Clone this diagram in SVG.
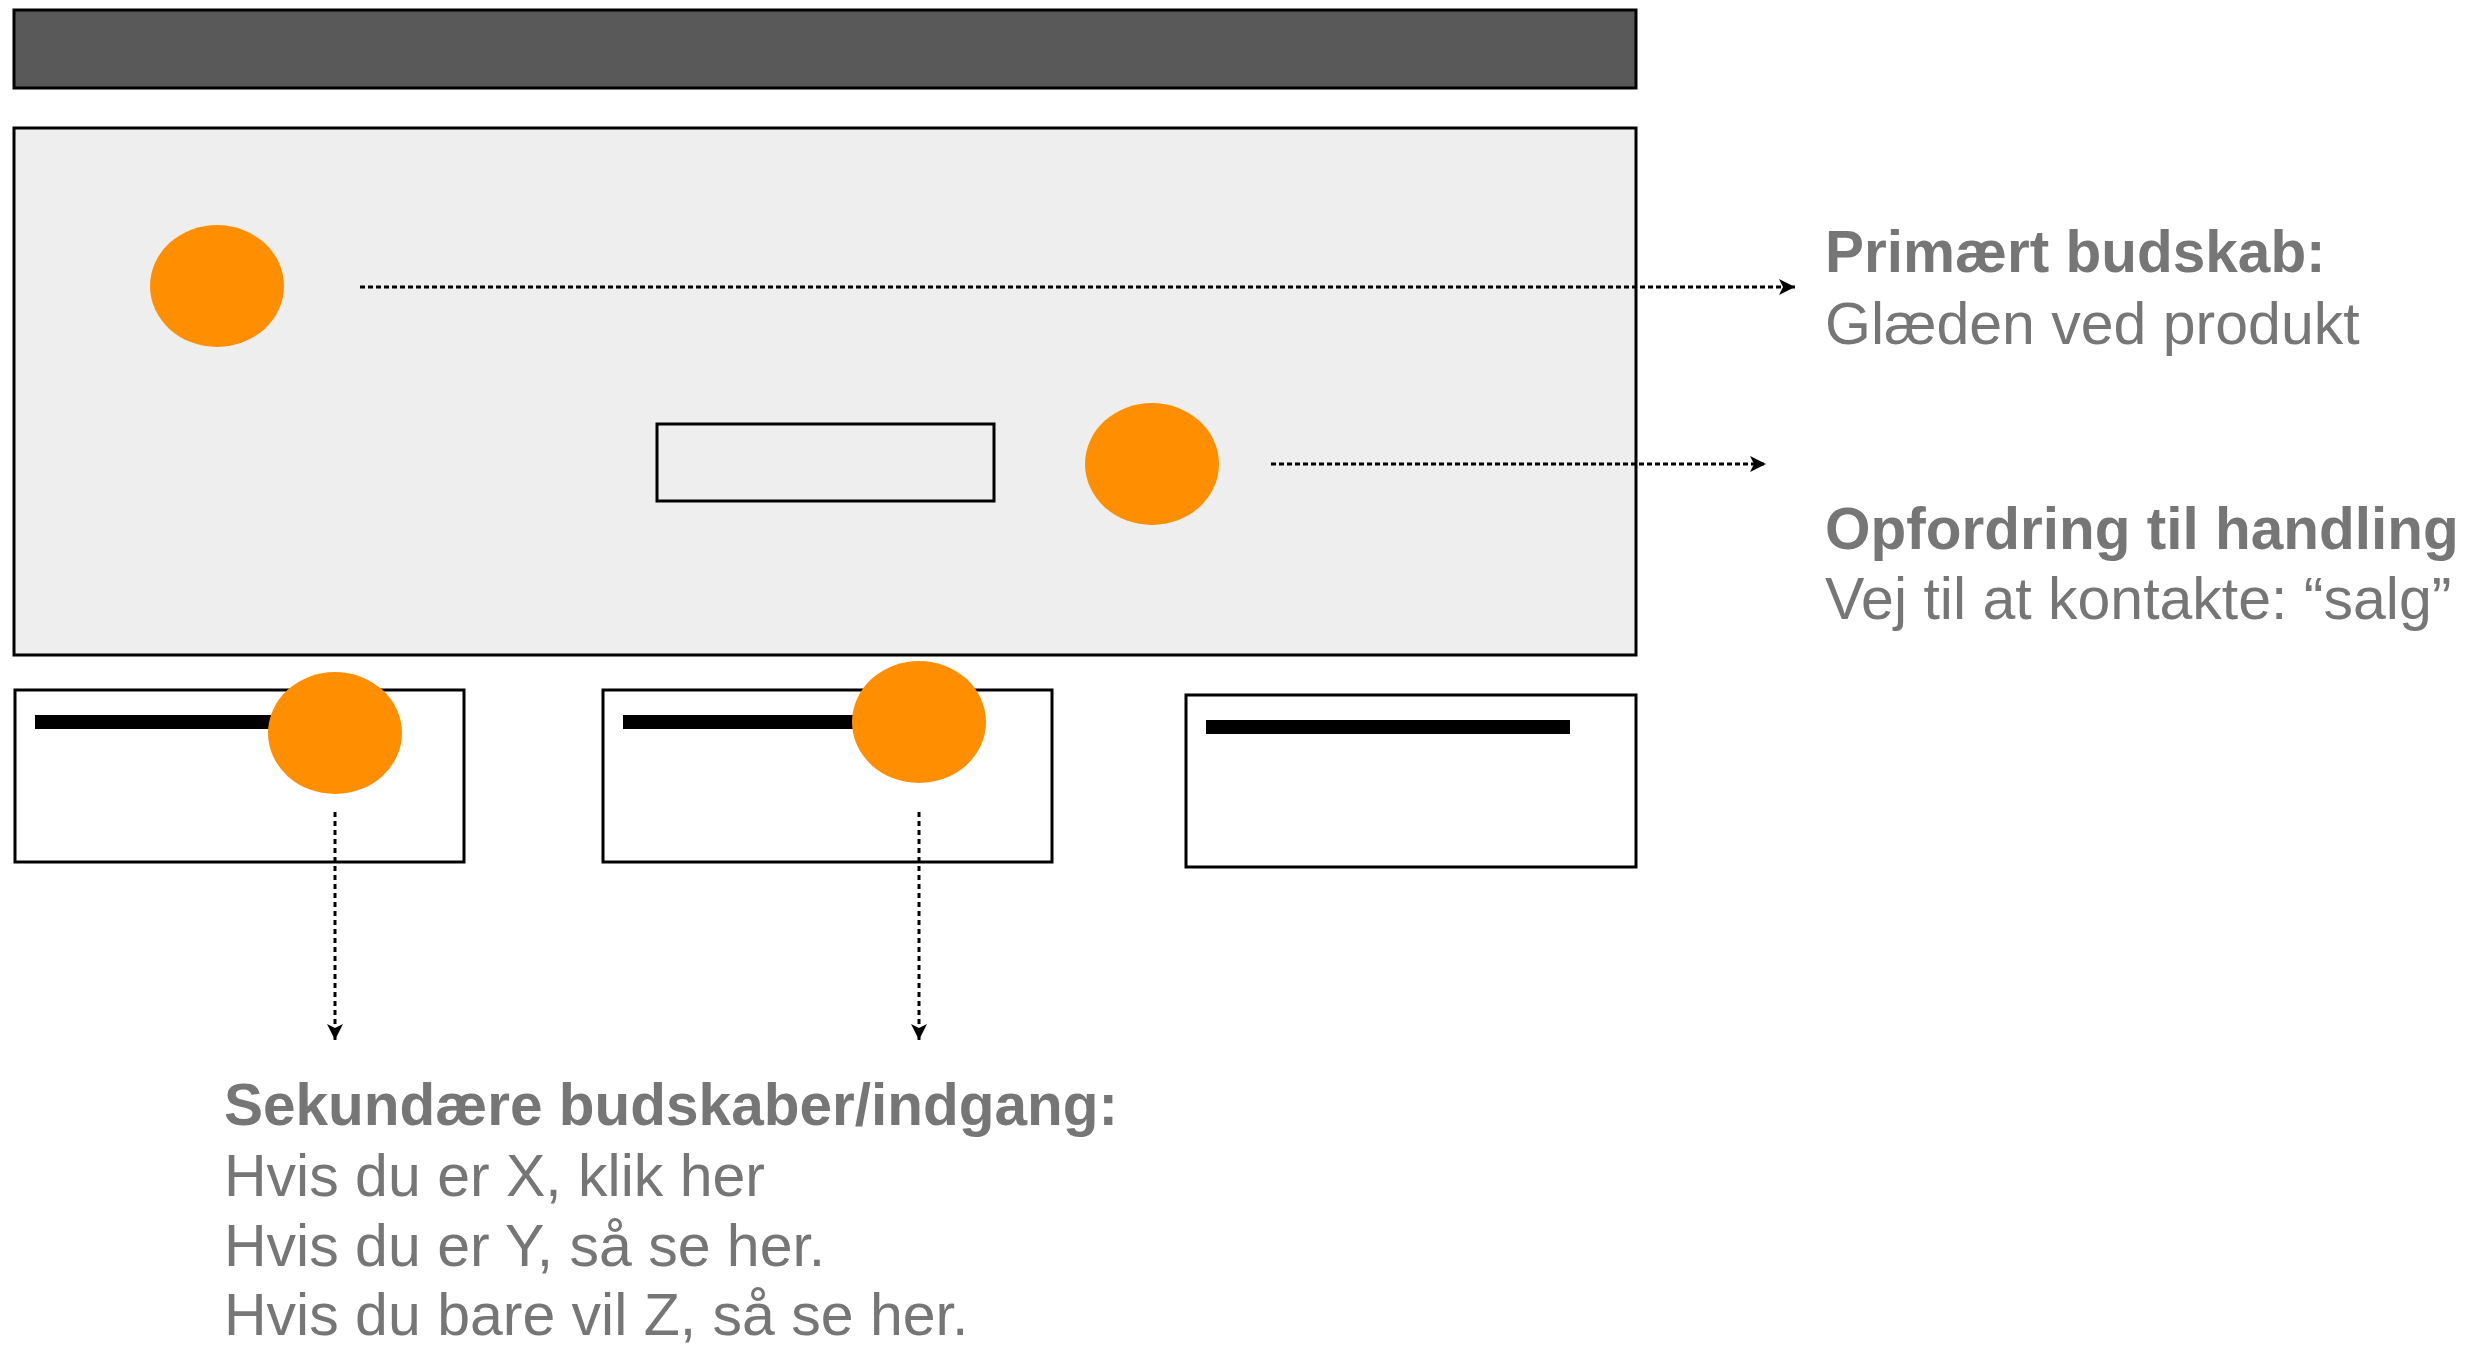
<svg xmlns="http://www.w3.org/2000/svg" width="2490" height="1347" viewBox="0 0 2490 1347">
<style>
.box{stroke:#000;stroke-width:3}
.dot{fill:#FF8F00}
.bar{fill:#000}
.con{fill:none;stroke:#000;stroke-width:3}
.h{stroke-dasharray:5 3}
.v{stroke-dasharray:5 4}
.t{font-family:"Liberation Sans",Arial,sans-serif;font-size:59px;fill:#767676}
.b{font-weight:bold;font-size:58.5px}
</style>
<defs>
<marker id="arr" markerUnits="userSpaceOnUse" markerWidth="18" markerHeight="18" refX="16" refY="8" orient="auto" viewBox="0 0 18 18">
<path d="M0,0 L16,8 L0,16 L4,8 Z" fill="#000"/>
</marker>
</defs>
<rect width="2490" height="1347" fill="#fff"/>
<g id="header"><rect class="box" x="14" y="10" width="1622" height="78" fill="#595959"/></g>
<g id="hero">
<rect class="box" x="14" y="128" width="1622" height="527" fill="#eeeeee"/>
</g>
<g id="cta-button"><rect class="box" x="657" y="424" width="337" height="77" fill="#eeeeee"/></g>
<g id="card1"><rect class="box" x="15" y="690" width="449" height="172" fill="#fff"/><rect class="bar" x="35" y="715" width="350" height="14"/></g>
<g id="card2"><rect class="box" x="603" y="690" width="449" height="172" fill="#fff"/><rect class="bar" x="623" y="715" width="350" height="14"/></g>
<g id="card3"><rect class="box" x="1186" y="695" width="450" height="172" fill="#fff"/><rect class="bar" x="1206" y="720" width="364" height="14"/></g>
<g id="marker-primary"><ellipse class="dot" cx="217" cy="286" rx="67" ry="61"/></g>
<g id="marker-cta"><ellipse class="dot" cx="1152" cy="464" rx="67" ry="61"/></g>
<g id="marker-card1"><ellipse class="dot" cx="335" cy="733" rx="67" ry="61"/></g>
<g id="marker-card2"><ellipse class="dot" cx="919" cy="722" rx="67" ry="61"/></g>
<g id="connectors">
<line class="con h" x1="360" y1="287" x2="1795" y2="287" marker-end="url(#arr)"/>
<line class="con h" x1="1271" y1="464" x2="1766" y2="464" marker-end="url(#arr)"/>
<line class="con v" x1="335" y1="812" x2="335" y2="1040" marker-end="url(#arr)"/>
<line class="con v" x1="919" y1="812" x2="919" y2="1040" marker-end="url(#arr)"/>
</g>
<g id="label-primary">
<text class="t b" x="1825" y="272">Primært budskab:</text>
<text class="t" x="1825" y="344">Glæden ved produkt</text>
</g>
<g id="label-cta">
<text class="t b" x="1825" y="549">Opfordring til handling</text>
<text class="t" x="1825" y="619">Vej til at kontakte: “salg”</text>
</g>
<g id="label-secondary">
<text class="t b" x="224" y="1125">Sekundære budskaber/indgang:</text>
<text class="t" x="224" y="1196">Hvis du er X, klik her</text>
<text class="t" x="224" y="1266">Hvis du er Y, så se her.</text>
<text class="t" x="224" y="1335">Hvis du bare vil Z, så se her.</text>
</g>
</svg>
